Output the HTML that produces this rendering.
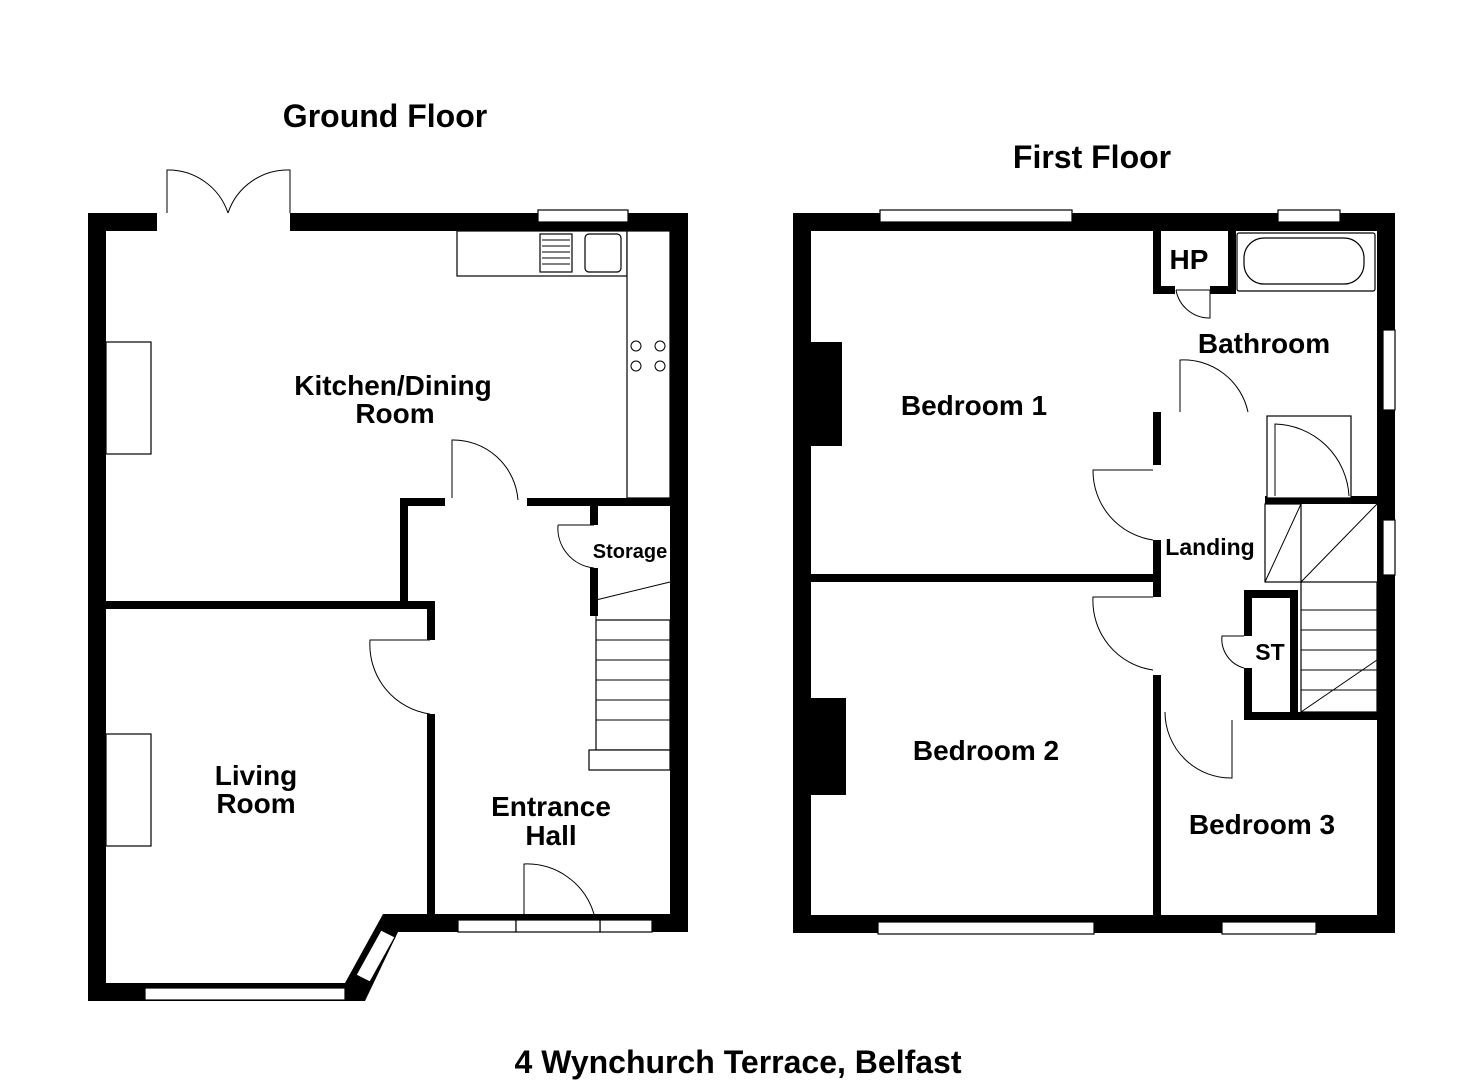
<!DOCTYPE html>
<html><head><meta charset="utf-8"><style>
html,body{margin:0;padding:0;background:#fff;width:1484px;height:1080px;overflow:hidden}
svg{display:block}
text{font-family:"Liberation Sans",Arial,sans-serif;font-weight:bold;fill:#000}
</style></head><body>
<svg width="1484" height="1080" viewBox="0 0 1484 1080">
<g fill="#000">
<rect x="88" y="213" width="69" height="18"/>
<rect x="290" y="213" width="398" height="18"/>
<rect x="88" y="213" width="18" height="788"/>
<rect x="670" y="213" width="18" height="719"/>
<rect x="383" y="914" width="305" height="18"/>
<rect x="88" y="983" width="270" height="18"/>
<polygon points="345,983 383,914 398,932 365,1001 345,1001"/>
<rect x="106" y="601" width="329" height="8"/>
<rect x="400" y="498" width="8" height="109"/>
<rect x="400" y="498" width="45" height="8"/>
<rect x="527" y="498" width="143" height="8"/>
<rect x="427" y="601" width="8" height="39"/>
<rect x="427" y="714" width="8" height="200"/>
<rect x="590" y="506" width="8" height="19"/>
<rect x="590" y="568" width="8" height="48"/>
<rect x="793" y="213" width="602" height="18"/>
<rect x="793" y="213" width="18" height="720"/>
<rect x="1377" y="213" width="18" height="720"/>
<rect x="793" y="915" width="602" height="18"/>
<rect x="811" y="574" width="350" height="8"/>
<rect x="1153" y="231" width="8" height="63"/>
<rect x="1153" y="412" width="8" height="53"/>
<rect x="1153" y="540" width="8" height="57"/>
<rect x="1153" y="675" width="8" height="240"/>
<rect x="1153" y="286" width="22" height="8"/>
<rect x="1210" y="286" width="26" height="8"/>
<rect x="1228" y="231" width="8" height="63"/>
<rect x="1265" y="496" width="112" height="8"/>
<rect x="1244" y="590" width="52" height="8"/>
<rect x="1244" y="590" width="8" height="46"/>
<rect x="1244" y="668" width="8" height="52"/>
<rect x="1244" y="712" width="133" height="8"/>
<rect x="1290" y="590" width="8" height="122"/>
<rect x="811" y="342" width="31" height="104"/>
<rect x="811" y="698" width="35" height="97"/>
</g>
<g fill="#fff" stroke="#000" stroke-width="1.2">
<rect x="538" y="210" width="90" height="12"/>
<rect x="145" y="988" width="200" height="12"/>
<rect x="458" y="920" width="58" height="12"/>
<rect x="600" y="920" width="52" height="12"/>
<rect x="516" y="920" width="84" height="12"/>
<rect x="880" y="210" width="192" height="12"/>
<rect x="1278" y="210" width="62" height="12"/>
<rect x="1383" y="330" width="12" height="80"/>
<rect x="1383" y="520" width="12" height="55"/>
<rect x="878" y="922" width="216" height="12"/>
<rect x="1222" y="922" width="94" height="12"/>
<polygon points="356,975 370,982 395,937 381,930"/>
<rect x="106" y="342" width="45" height="112"/>
<rect x="106" y="734" width="45" height="112"/>
<rect x="457" y="231" width="170" height="45"/>
<rect x="627" y="231" width="43" height="267"/>
<rect x="540" y="234" width="32" height="38"/>
<rect x="585" y="234" width="36" height="38" rx="4"/>
<rect x="1237" y="233" width="138" height="58" rx="2"/>
<rect x="1244" y="238" width="120" height="46" rx="20"/>
<rect x="1267" y="416" width="84" height="82"/>
<rect x="596" y="620" width="74" height="130"/>
<rect x="589" y="750" width="81" height="20"/>
<rect x="1265" y="504" width="36" height="78"/>
<rect x="1301" y="582" width="76" height="130"/>
</g>
<g fill="none" stroke="#000" stroke-width="1">
<path d="M596 640H670M596 660H670M596 680H670M596 700H670M596 720H670M596 582V620M596 600L670 582"/>
<path d="M1301 610H1377M1301 630H1377M1301 650H1377M1301 670H1377M1301 690H1377M1301 582L1377 504M1265 582L1301 504M1301 712L1377 660"/>
<path d="M542 240H570M542 246H570M542 252H570M542 258H570M542 264H570"/>
<path d="M167 213V170A63 63 0 0 1 228 213M290 213V170A63 63 0 0 0 228 213"/>
<path d="M452 498V440A65 65 0 0 1 518 500"/>
<path d="M430 640H370A70 70 0 0 0 430 714"/>
<path d="M558 525H594M558 525A40 40 0 0 0 594 568"/>
<path d="M524 914V864A70 70 0 0 1 594 914"/>
<path d="M1153 470H1093A70 70 0 0 0 1153 540"/>
<path d="M1153 597H1093A70 70 0 0 0 1153 670"/>
<path d="M1180 412V360A66 66 0 0 1 1248 412"/>
<path d="M1176 290H1210V318A34 34 0 0 1 1176 290"/>
<path d="M1244 636H1222A30 30 0 0 0 1244 668"/>
<path d="M1232 720V778A66 66 0 0 1 1165 712"/>
<path d="M1275 496V424A76 76 0 0 1 1349 496"/>
</g>
<g fill="none" stroke="#000" stroke-width="1">
<circle cx="636" cy="346" r="5"/><circle cx="660" cy="346" r="5"/>
<circle cx="636" cy="366" r="5"/><circle cx="660" cy="366" r="5"/>
</g>
<text x="385" y="127" font-size="32" text-anchor="middle">Ground Floor</text>
<text x="1092" y="168" font-size="32" text-anchor="middle">First Floor</text>
<text x="738" y="1073" font-size="32" text-anchor="middle">4 Wynchurch Terrace, Belfast</text>
<g font-size="28" text-anchor="middle">
<text x="393" y="395">Kitchen/Dining</text><text x="395" y="423">Room</text>
<text x="256" y="785">Living</text><text x="256" y="813">Room</text>
<text x="551" y="816">Entrance</text><text x="551" y="845">Hall</text>
<text x="974" y="415">Bedroom 1</text>
<text x="986" y="760">Bedroom 2</text>
<text x="1262" y="834">Bedroom 3</text>
<text x="1264" y="353">Bathroom</text>
<text x="1189" y="269">HP</text>
</g>
<text x="630" y="558" font-size="20" text-anchor="middle">Storage</text>
<text x="1210" y="555" font-size="23" text-anchor="middle">Landing</text>
<text x="1270" y="660" font-size="23" text-anchor="middle">ST</text>
</svg>
</body></html>
